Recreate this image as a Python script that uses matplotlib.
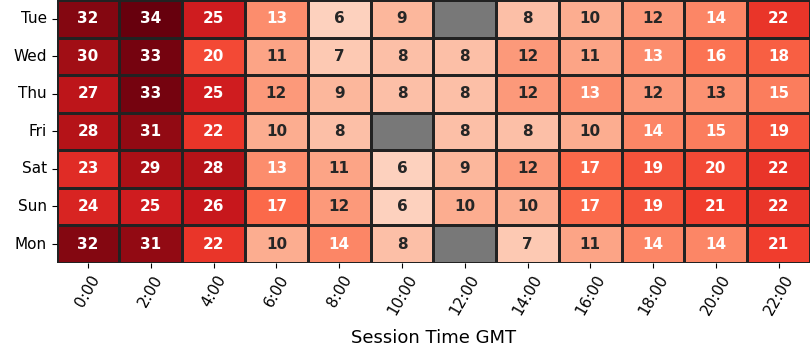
import numpy as np
import pandas as pd
import seaborn as sns
from matplotlib import pyplot as plt

days = ['Tue', 'Wed', 'Thu', 'Fri', 'Sat', 'Sun', 'Mon']
hours = ['0:00', '2:00', '4:00', '6:00', '8:00', '10:00',
         '12:00', '14:00', '16:00', '18:00', '20:00', '22:00']
nan = np.nan
# averages (shown rounded); some cells are slightly off-integer
tue = [32, 34, 25, 13.4, 6, 9, nan, 8, 10, 12, 14, 22]
wed = [30, 33, 20, 11, 7, 8, 8, 12, 11, 13.4, 16, 18]
thu = [27, 33, 25, 12, 9, 8, 8, 12, 13.4, 12, 12.8, 15]
fri = [28, 31, 22, 10, 8, nan, 8, 8, 10, 14, 15, 19]
sat = [23, 29, 28, 13.4, 11, 6, 9, 12, 17, 19, 20, 22]
sun = [24, 25, 26, 17, 12, 6, 10, 10, 17, 19, 21, 22]
mon = [32, 31, 22, 10, 14, 8, nan, 7, 11, 14, 14, 21]

df = pd.DataFrame([tue, wed, thu, fri, sat, sun, mon], index=days, columns=hours)

fig, ax = plt.subplots(figsize=(8.1, 3.6), dpi=100)
ax.set_facecolor('#787878')
sns.heatmap(df, ax=ax, cmap='Reds', vmin=0, vmax=34, annot=True, fmt='.0f',
            annot_kws={'fontweight': 'bold', 'fontsize': 11},
            linewidths=1, linecolor='#222222', cbar=False)
ax.set_xticklabels(hours, rotation=60, fontsize=11)
ax.set_yticklabels(days, rotation=0, fontsize=11)
ax.set_xlabel('Session Time GMT', fontsize=13, labelpad=8)
ax.set_ylabel('')
plt.subplots_adjust(left=0.07, right=1.0, top=1.0, bottom=0.27)
plt.savefig('out.png')
plt.close()
